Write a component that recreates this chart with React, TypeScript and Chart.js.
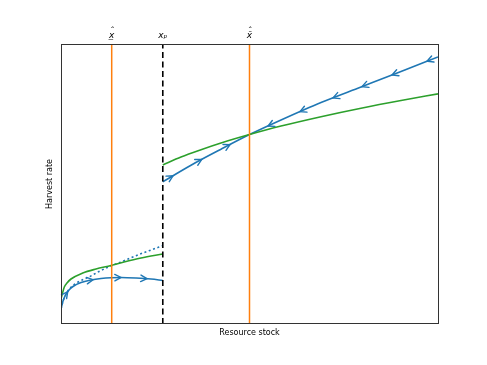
import { useEffect, useRef } from "react";
import { Chart, registerables } from "chart.js";

Chart.register(...registerables);

// Axis ranges (arbitrary units)
const X_MIN = 0;
const X_MAX = 10;
const Y_MIN = 0;
const Y_MAX = 10;

// Thresholds marked on the top axis
const markerValues = [1.345, 2.7, 5.0];
const markerLabels = [
  ["\u02C6", "x\u0332"],
  ["", "x\u209A"],
  ["\u02C6", "x\u0304"],
];

// Lower green curve (left of x_p)
const greenLowX = [0, 0.027, 0.088, 0.159, 0.265, 0.576, 0.928, 1.326, 1.671, 2.122, 2.7];
const greenLowY = [0.9, 1.036, 1.321, 1.464, 1.607, 1.821, 1.964, 2.089, 2.214, 2.357, 2.5];

// Upper green curve (right of x_p)
const greenHighX = [2.7, 3.183, 3.714, 4.244, 5.0, 5.836, 6.897, 7.958, 9.019, 10];
const greenHighY = [5.682, 5.964, 6.225, 6.464, 6.765, 7.068, 7.404, 7.707, 7.982, 8.218];

// Lower blue trajectory (solid)
const blueLowX = [0, 0.053, 0.133, 0.212, 0.318, 0.531, 0.796, 1.061, 1.326, 1.592, 1.989, 2.387, 2.7];
const blueLowY = [0.536, 0.821, 1.071, 1.214, 1.339, 1.482, 1.571, 1.625, 1.654, 1.661, 1.643, 1.607, 1.554];

// Lower blue trajectory (dotted)
const blueDotX = [0, 0.053, 0.133, 0.212, 0.318, 0.531, 0.743, 1.008, 1.273, 1.592, 1.989, 2.387, 2.7];
const blueDotY = [0.536, 0.821, 1.071, 1.232, 1.375, 1.554, 1.679, 1.875, 2.046, 2.214, 2.439, 2.643, 2.796];

// Upper blue trajectory
const blueHighX = [2.7, 3.448, 4.244, 5.0, 5.836, 6.897, 7.958, 9.019, 10];
const blueHighY = [5.08, 5.671, 6.243, 6.765, 7.286, 7.911, 8.464, 9.018, 9.536];

// Arrow positions along the trajectories (x values) and directions
const arrowsLowX = [0.178, 0.85, 1.592, 2.281];
const arrowsHighRightX = [2.971, 3.732, 4.483];
const arrowsHighLeftX = [5.491, 6.34, 7.215, 7.984, 8.78, 9.708];

const BLUE = "#1f77b4";
const ORANGE = "#ff7f0e";
const GREEN = "#2ca02c";
const FONT = "DejaVu Sans";

const toPts = (xs: number[], ys: number[]) => xs.map((x, i) => ({ x, y: ys[i] }));

function drawArrows(chart: any, xs: number[], ys: number[], at: number[], dir: number) {
  const sx = chart.scales.x;
  const sy = chart.scales.y;
  const ctx = chart.ctx;
  ctx.save();
  ctx.strokeStyle = BLUE;
  ctx.lineWidth = 1.4;
  ctx.lineCap = "round";
  for (const xv of at) {
    let i = 0;
    while (i < xs.length - 2 && xs[i + 1] < xv) i++;
    const t = (xv - xs[i]) / (xs[i + 1] - xs[i]);
    const yv = ys[i] + t * (ys[i + 1] - ys[i]);
    const px = sx.getPixelForValue(xv);
    const py = sy.getPixelForValue(yv);
    const ax = sx.getPixelForValue(xs[i]);
    const ay = sy.getPixelForValue(ys[i]);
    const bx = sx.getPixelForValue(xs[i + 1]);
    const by = sy.getPixelForValue(ys[i + 1]);
    let dx = (bx - ax) * dir;
    let dy = (by - ay) * dir;
    const len = Math.hypot(dx, dy) || 1;
    dx /= len;
    dy /= len;
    const L = 7;
    const ang = 0.48;
    const back = Math.atan2(-dy, -dx);
    ctx.beginPath();
    ctx.moveTo(px + L * Math.cos(back + ang), py + L * Math.sin(back + ang));
    ctx.lineTo(px, py);
    ctx.lineTo(px + L * Math.cos(back - ang), py + L * Math.sin(back - ang));
    ctx.stroke();
  }
  ctx.restore();
}

const overlayPlugin = {
  id: "overlay",
  afterDatasetsDraw(chart: any) {
    drawArrows(chart, blueLowX, blueLowY, arrowsLowX, 1);
    drawArrows(chart, blueHighX, blueHighY, arrowsHighRightX, 1);
    drawArrows(chart, blueHighX, blueHighY, arrowsHighLeftX, -1);
    const { left, right, top, bottom } = chart.chartArea;
    const ctx = chart.ctx;
    ctx.save();
    ctx.strokeStyle = "#333";
    ctx.lineWidth = 1;
    ctx.strokeRect(left + 0.5, top + 0.5, right - left, bottom - top - 1);
    ctx.restore();
  },
};

export default function App() {
  const ref = useRef<HTMLCanvasElement | null>(null);

  useEffect(() => {
    document.body.style.margin = "0";
    if (!ref.current) return;
    const vline = (xv: number, color: string, dash: number[], width: number) => ({
      data: [
        { x: xv, y: Y_MIN },
        { x: xv, y: Y_MAX },
      ],
      borderColor: color,
      borderWidth: width,
      borderDash: dash,
      pointRadius: 0,
      fill: false,
    });
    const curve = (xs: number[], ys: number[], color: string, dash: number[] = []) => ({
      data: toPts(xs, ys),
      borderColor: color,
      borderWidth: 1.6,
      borderDash: dash,
      pointRadius: 0,
      fill: false,
      cubicInterpolationMode: "monotone" as const,
    });

    const chart = new Chart(ref.current, {
      type: "line",
      data: {
        datasets: [
          vline(markerValues[0], ORANGE, [], 1.5),
          vline(markerValues[2], ORANGE, [], 1.5),
          vline(markerValues[1], "#000", [6, 3.5], 1.6),
          curve(greenLowX, greenLowY, GREEN),
          curve(greenHighX, greenHighY, GREEN),
          curve(blueDotX, blueDotY, BLUE, [2, 2.6]),
          curve(blueLowX, blueLowY, BLUE),
          curve(blueHighX, blueHighY, BLUE),
        ] as any,
      },
      options: {
        animation: false,
        responsive: false,
        layout: { padding: { left: 0, right: 49, top: 0, bottom: 0 } },
        plugins: { legend: { display: false }, tooltip: { enabled: false } },
        scales: {
          x: {
            type: "linear",
            position: "bottom",
            min: X_MIN,
            max: X_MAX,
            grid: { display: false },
            border: { display: false },
            ticks: { display: false },
            title: {
              display: true,
              text: "Resource stock",
              color: "#000",
              font: { family: FONT, size: 8, lineHeight: 1.2 },
              padding: { top: 0, bottom: 27.2 },
            },
            afterFit: (s: any) => {
              s.height = 41;
            },
          },
          xTop: {
            type: "linear",
            position: "top",
            axis: "x",
            min: X_MIN,
            max: X_MAX,
            grid: { display: false, drawTicks: false },
            border: { display: false },
            afterBuildTicks: (s: any) => {
              s.ticks = markerValues.map((v) => ({ value: v }));
            },
            ticks: {
              autoSkip: false,
              maxRotation: 0,
              padding: 6.3,
              color: "#000",
              font: { family: FONT, size: 9, style: "italic", lineHeight: 0.444 },
              callback: (_v: any, i: number) => markerLabels[i],
            },
            afterFit: (s: any) => {
              s.height = 44;
            },
          },
          y: {
            type: "linear",
            position: "left",
            min: Y_MIN,
            max: Y_MAX,
            grid: { display: false },
            border: { display: false },
            ticks: { display: false },
            title: {
              display: true,
              text: "Harvest rate",
              color: "#000",
              font: { family: FONT, size: 8, lineHeight: 1.2 },
              padding: { top: 45.2, bottom: 0 },
            },
            afterFit: (s: any) => {
              s.width = 61;
            },
          },
        },
      } as any,
      plugins: [overlayPlugin],
    });
    return () => chart.destroy();
  }, []);

  return (
    <div style={{ width: 487, height: 365 }}>
      <canvas ref={ref} width={487} height={365} />
    </div>
  );
}
